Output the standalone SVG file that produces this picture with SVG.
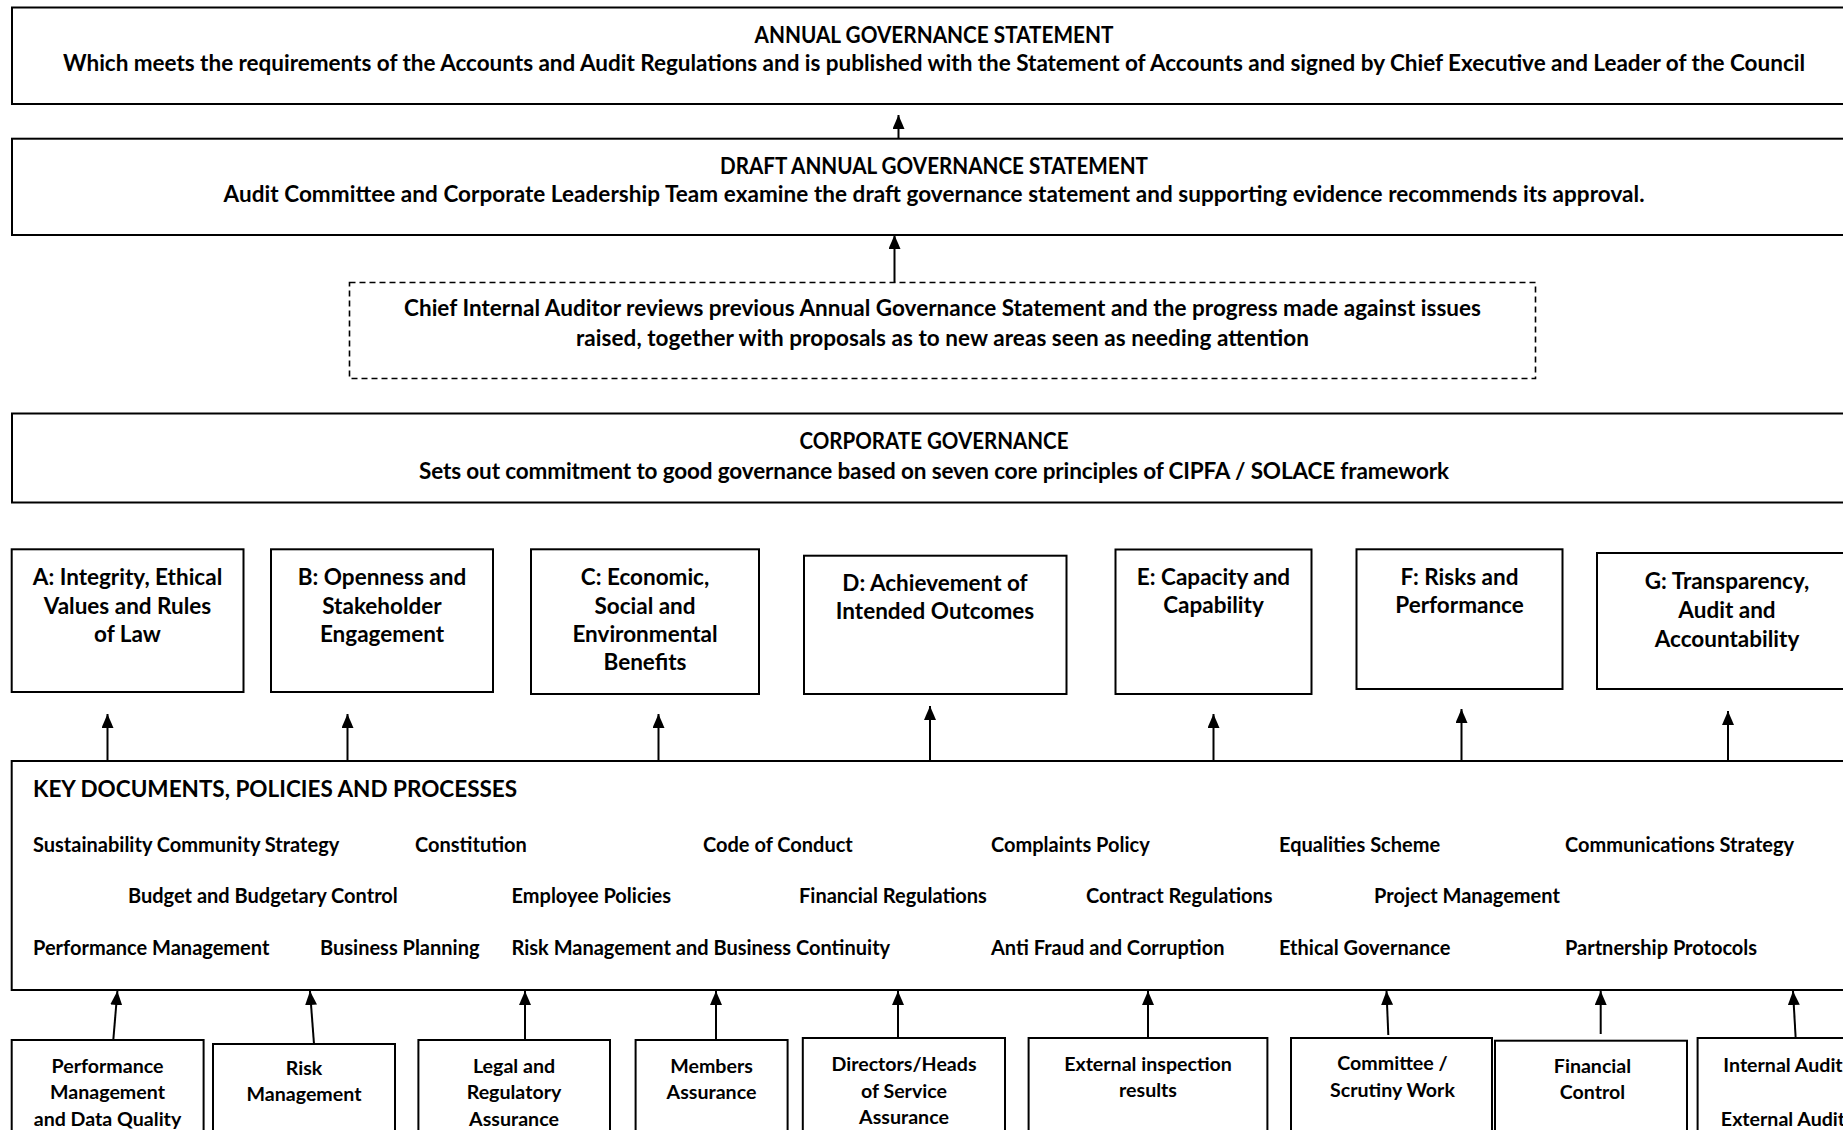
<svg xmlns="http://www.w3.org/2000/svg" width="1843" height="1130" viewBox="0 0 1843 1130">
<style>
.box{fill:#fff;stroke:#000;stroke-width:2}
.dash{fill:#fff;stroke:#000;stroke-width:1.6;stroke-dasharray:6 4}
text{font-family:Lato,"Liberation Sans",sans-serif;font-weight:bold;fill:#000}
.hc{font-size:22px;text-anchor:middle}
.h{font-size:22.5px;text-anchor:middle}
.p{font-size:22.5px;text-anchor:middle}
.k{font-size:20px}
.kt{font-size:22.5px}
.b{font-size:19.6px;text-anchor:middle}
.arr{stroke:#000;stroke-width:2;fill:none;marker-end:url(#ah)}
</style>
<defs>
<marker id="ah" viewBox="0 0 14 12" refX="14" refY="6" markerWidth="14" markerHeight="12" markerUnits="userSpaceOnUse" orient="auto">
<path d="M0,0 L14,6 L0,12 z" fill="#000"/>
</marker>
</defs>
<rect width="1843" height="1130" fill="#fff"/>

<g id="annual">
<rect class="box" x="12" y="7.5" width="1846" height="96.5"/>
<text class="hc" x="934" y="42.5" textLength="359" lengthAdjust="spacingAndGlyphs">ANNUAL GOVERNANCE STATEMENT</text>
<text class="h" x="934" y="71" textLength="1742">Which meets the requirements of the Accounts and Audit Regulations and is published with the Statement of Accounts and signed by Chief Executive and Leader of the Council</text>
</g>

<g id="draft">
<rect class="box" x="12" y="138.7" width="1846" height="96.3"/>
<text class="hc" x="934" y="174" textLength="428" lengthAdjust="spacingAndGlyphs">DRAFT ANNUAL GOVERNANCE STATEMENT</text>
<text class="h" x="934" y="202" textLength="1421">Audit Committee and Corporate Leadership Team examine the draft governance statement and supporting evidence recommends its approval.</text>
</g>

<g id="cia">
<rect class="dash" x="349.5" y="282.5" width="1186" height="96"/>
<text class="h" x="942.5" y="316" textLength="1077">Chief Internal Auditor reviews previous Annual Governance Statement and the progress made against issues</text>
<text class="h" x="942.5" y="345.5" textLength="733">raised, together with proposals as to new areas seen as needing attention</text>
</g>

<g id="corporate">
<rect class="box" x="12" y="413.5" width="1846" height="89"/>
<text class="hc" x="934" y="448.5" textLength="269" lengthAdjust="spacingAndGlyphs">CORPORATE GOVERNANCE</text>
<text class="h" x="934" y="478.5" textLength="1030">Sets out commitment to good governance based on seven core principles of CIPFA / SOLACE framework</text>
</g>

<g id="principleA">
<rect class="box" x="11.7" y="549.3" width="231.8" height="142.7"/>
<text class="p" x="127.5" y="585">A: Integrity, Ethical</text>
<text class="p" x="127.5" y="613.5">Values and Rules</text>
<text class="p" x="127.5" y="642">of Law</text>
</g>
<g id="principleB">
<rect class="box" x="271" y="549.3" width="222" height="142.7"/>
<text class="p" x="382" y="585">B: Openness and</text>
<text class="p" x="382" y="613.5">Stakeholder</text>
<text class="p" x="382" y="642">Engagement</text>
</g>
<g id="principleC">
<rect class="box" x="531" y="549.3" width="228" height="144.7"/>
<text class="p" x="645" y="585">C: Economic,</text>
<text class="p" x="645" y="613.5">Social and</text>
<text class="p" x="645" y="642">Environmental</text>
<text class="p" x="645" y="670">Benefits</text>
</g>
<g id="principleD">
<rect class="box" x="804" y="555.7" width="262.5" height="138.3"/>
<text class="p" x="935" y="590.5">D: Achievement of</text>
<text class="p" x="935" y="619">Intended Outcomes</text>
</g>
<g id="principleE">
<rect class="box" x="1115.5" y="549.5" width="196" height="144.5"/>
<text class="p" x="1213.5" y="584.5">E: Capacity and</text>
<text class="p" x="1213.5" y="612.5">Capability</text>
</g>
<g id="principleF">
<rect class="box" x="1356.5" y="549.3" width="206" height="139.7"/>
<text class="p" x="1459.5" y="584.5">F: Risks and</text>
<text class="p" x="1459.5" y="612.5">Performance</text>
</g>
<g id="principleG">
<rect class="box" x="1597" y="553" width="261" height="136"/>
<text class="p" x="1727" y="588.5">G: Transparency,</text>
<text class="p" x="1727" y="617.5">Audit and</text>
<text class="p" x="1727" y="646.5">Accountability</text>
</g>

<g id="keydocs">
<rect class="box" x="11.7" y="761" width="1846" height="229"/>
<text class="kt" x="33" y="797">KEY DOCUMENTS, POLICIES AND PROCESSES</text>
<text class="k" x="33" y="851.5">Sustainability Community Strategy</text>
<text class="k" x="415" y="851.5">Constitution</text>
<text class="k" x="703" y="851.5">Code of Conduct</text>
<text class="k" x="991" y="851.5">Complaints Policy</text>
<text class="k" x="1279" y="851.5">Equalities Scheme</text>
<text class="k" x="1565" y="851.5">Communications Strategy</text>
<text class="k" x="128" y="903">Budget and Budgetary Control</text>
<text class="k" x="511.5" y="903">Employee Policies</text>
<text class="k" x="799" y="903">Financial Regulations</text>
<text class="k" x="1086" y="903">Contract Regulations</text>
<text class="k" x="1374" y="903">Project Management</text>
<text class="k" x="33" y="954.5">Performance Management</text>
<text class="k" x="320" y="954.5">Business Planning</text>
<text class="k" x="511.5" y="954.5">Risk Management and Business Continuity</text>
<text class="k" x="991" y="954.5">Anti Fraud and Corruption</text>
<text class="k" x="1279" y="954.5">Ethical Governance</text>
<text class="k" x="1565" y="954.5">Partnership Protocols</text>
</g>

<g id="source1">
<rect class="box" x="11.7" y="1040" width="191.9" height="100"/>
<text class="b" x="107.5" y="1072.5">Performance</text>
<text class="b" x="107.5" y="1099">Management</text>
<text class="b" x="107.5" y="1125.5">and Data Quality</text>
</g>
<g id="source2">
<rect class="box" x="213" y="1044" width="182" height="100"/>
<text class="b" x="304" y="1075">Risk</text>
<text class="b" x="304" y="1101">Management</text>
</g>
<g id="source3">
<rect class="box" x="418.4" y="1040" width="191.6" height="100"/>
<text class="b" x="514" y="1072.5">Legal and</text>
<text class="b" x="514" y="1099">Regulatory</text>
<text class="b" x="514" y="1125.5">Assurance</text>
</g>
<g id="source4">
<rect class="box" x="635.6" y="1040" width="152" height="100"/>
<text class="b" x="711.5" y="1072.5">Members</text>
<text class="b" x="711.5" y="1099">Assurance</text>
</g>
<g id="source5">
<rect class="box" x="802.8" y="1038" width="202.2" height="100"/>
<text class="b" x="904" y="1071">Directors/Heads</text>
<text class="b" x="904" y="1097.5">of Service</text>
<text class="b" x="904" y="1124">Assurance</text>
</g>
<g id="source6">
<rect class="box" x="1028.6" y="1038" width="238.8" height="100"/>
<text class="b" x="1148" y="1070.5">External inspection</text>
<text class="b" x="1148" y="1097">results</text>
</g>
<g id="source7">
<rect class="box" x="1291" y="1038" width="201" height="100"/>
<text class="b" x="1392.5" y="1070">Committee /</text>
<text class="b" x="1392.5" y="1096.5">Scrutiny Work</text>
</g>
<g id="source8">
<rect class="box" x="1495" y="1040.7" width="192" height="100"/>
<text class="b" x="1592.5" y="1072.5">Financial</text>
<text class="b" x="1592.5" y="1099">Control</text>
</g>
<g id="source9">
<rect class="box" x="1697.6" y="1038" width="162" height="100"/>
<text class="b" x="1783" y="1071.5">Internal Audit</text>
<text class="b" x="1783" y="1125.5">External Audit</text>
</g>

<g id="connectors">
<line class="arr" x1="898.5" y1="138.7" x2="898.5" y2="115"/>
<line class="arr" x1="894.5" y1="282.5" x2="894.5" y2="235"/>
<line class="arr" x1="107.5" y1="761" x2="107.5" y2="714"/>
<line class="arr" x1="347.5" y1="761" x2="347.5" y2="714"/>
<line class="arr" x1="658.5" y1="761" x2="658.5" y2="714"/>
<line class="arr" x1="930" y1="761" x2="930" y2="706"/>
<line class="arr" x1="1213.5" y1="761" x2="1213.5" y2="714"/>
<line class="arr" x1="1461.5" y1="761" x2="1461.5" y2="709"/>
<line class="arr" x1="1728" y1="761" x2="1728" y2="711"/>
<line class="arr" x1="113.3" y1="1040" x2="117.4" y2="991"/>
<line class="arr" x1="314" y1="1044" x2="310" y2="991"/>
<line class="arr" x1="525" y1="1040" x2="525" y2="991"/>
<line class="arr" x1="716" y1="1040" x2="716" y2="991"/>
<line class="arr" x1="898" y1="1038" x2="898" y2="991"/>
<line class="arr" x1="1148" y1="1038" x2="1148" y2="991"/>
<line class="arr" x1="1388.3" y1="1035" x2="1386.5" y2="991"/>
<line class="arr" x1="1600.7" y1="1034" x2="1600.7" y2="991"/>
<line class="arr" x1="1795.6" y1="1037" x2="1793" y2="991"/>
</g>
</svg>
